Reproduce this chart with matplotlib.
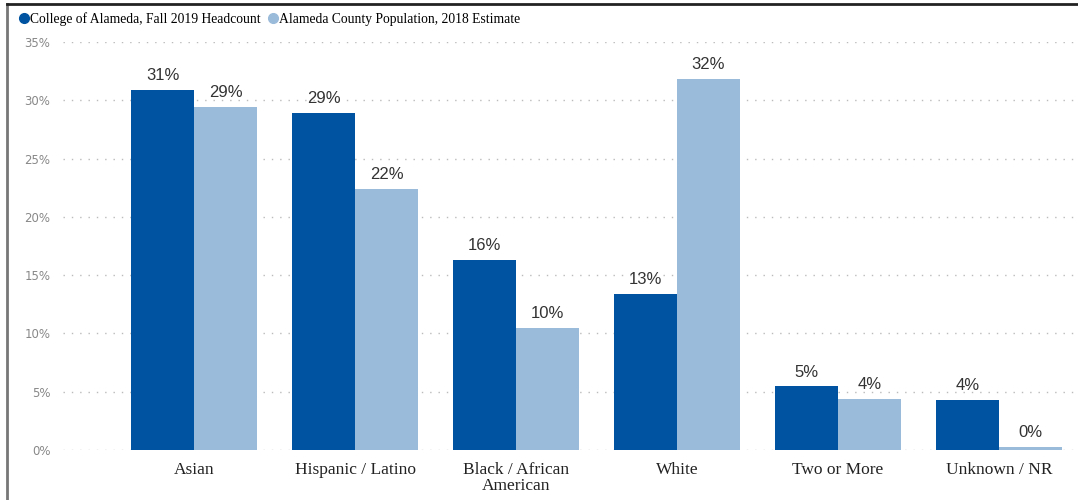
import matplotlib
matplotlib.use("Agg")
import matplotlib.pyplot as plt
import numpy as np
from matplotlib.lines import Line2D

categories = ["Asian", "Hispanic / Latino", "Black / African\nAmerican", "White", "Two or More", "Unknown / NR"]
college = [30.9, 28.9, 16.3, 13.4, 5.45, 4.3]
county = [29.4, 22.4, 10.5, 31.8, 4.4, 0.26]
series_names = ["College of Alameda, Fall 2019 Headcount", "Alameda County Population, 2018 Estimate"]
yticks = [0, 5, 10, 15, 20, 25, 30, 35]

dark = "#0053A0"
light = "#9BBBDA"

fig = plt.figure(figsize=(10.78, 5.0), dpi=100)
ax = fig.add_axes([63/1078, 50/500, 1 - 63/1078, (450-42)/500])

x = np.arange(len(categories))
w = 0.39
b1 = ax.bar(x - w/2, college, w, color=dark, zorder=3)
b2 = ax.bar(x + w/2, county, w, color=light, zorder=3)

lab_kw = dict(padding=5, fontsize=12, color="#333333", family="Liberation Sans")
ax.bar_label(b1, labels=[f"{v:.0f}%" for v in college], **lab_kw)
ax.bar_label(b2, labels=[f"{v:.0f}%" for v in county], **lab_kw)

ax.set_ylim(0, 35)
ax.set_xlim(-0.814, 5.49)
ax.set_yticks(yticks)
ax.set_yticklabels([f"{t}%" for t in yticks], fontsize=8.5, color="#888888", family="DejaVu Sans")
ax.set_xticks(x)
ax.set_xticklabels(categories, fontsize=12.5, family="Liberation Serif", color="#222222", linespacing=1.0)
ax.tick_params(axis="both", length=0)
ax.tick_params(axis="x", pad=9)
ax.tick_params(axis="y", pad=9)
for s in ax.spines.values():
    s.set_visible(False)
ax.yaxis.grid(True, linestyle=(0, (1, 5)), color="#bbbbbb", linewidth=1.0, zorder=0)

# frame lines
fig.add_artist(Line2D([7/1078, 7/1078], [0, 1 - 4/500], color="#777777", linewidth=2, transform=fig.transFigure))
fig.add_artist(Line2D([7/1078, 1], [1 - 4/500, 1 - 4/500], color="#222222", linewidth=2, transform=fig.transFigure))

handles = [Line2D([], [], marker="o", linestyle="", color=dark, markersize=7),
           Line2D([], [], marker="o", linestyle="", color=light, markersize=7)]
fig.legend(handles, series_names, loc="center left", bbox_to_anchor=(20/1078, 1 - 19/500), ncol=2,
           frameon=False, handlelength=0.6, handletextpad=0.15, columnspacing=0.6,
           prop={"family": "Liberation Serif", "size": 9.8}, borderpad=0, borderaxespad=0)

fig.savefig("out.png", dpi=100)
